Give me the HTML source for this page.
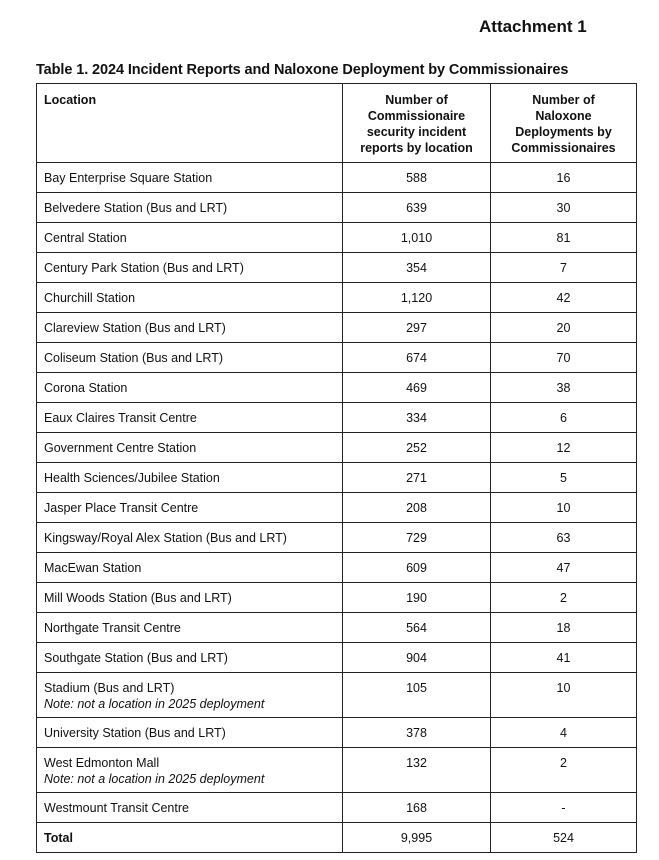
<!DOCTYPE html>
<html><head><meta charset="utf-8"><style>
body{margin:0;width:659px;height:860px;background:#fff;font-family:"Liberation Sans",sans-serif;color:#111;position:relative;overflow:hidden}
.att{position:absolute;left:479px;top:17px;font-size:17px;font-weight:bold}
.ttl{position:absolute;left:36px;top:62px;font-size:14.5px;font-weight:bold;letter-spacing:-0.1px}
table{position:absolute;left:36px;top:83px;border-collapse:collapse;font-size:12.5px;table-layout:fixed}
td{border:1px solid #222;padding:0 7px;height:29px;vertical-align:middle;box-sizing:border-box}
td.n{text-align:center}
tr.h td{height:79px;vertical-align:top;font-weight:bold;padding-top:8px;line-height:16px}
tr.d td{height:45px;vertical-align:top;padding-top:7px;line-height:16px}
tr.r td{height:30px}
i{font-style:italic}
</style></head><body>
<div class="att">Attachment 1</div>
<div class="ttl">Table 1. 2024 Incident Reports and Naloxone Deployment by Commissionaires</div>
<table>
<colgroup><col style="width:306px"><col style="width:148px"><col style="width:146px"></colgroup>
<tr class="h"><td>Location</td><td class="n">Number of<br>Commissionaire<br>security incident<br>reports by location</td><td class="n">Number of<br>Naloxone<br>Deployments by<br>Commissionaires</td></tr>
<tr class="r"><td>Bay Enterprise Square Station</td><td class="n">588</td><td class="n">16</td></tr>
<tr class="r"><td>Belvedere Station (Bus and LRT)</td><td class="n">639</td><td class="n">30</td></tr>
<tr class="r"><td>Central Station</td><td class="n">1,010</td><td class="n">81</td></tr>
<tr class="r"><td>Century Park Station (Bus and LRT)</td><td class="n">354</td><td class="n">7</td></tr>
<tr class="r"><td>Churchill Station</td><td class="n">1,120</td><td class="n">42</td></tr>
<tr class="r"><td>Clareview Station (Bus and LRT)</td><td class="n">297</td><td class="n">20</td></tr>
<tr class="r"><td>Coliseum Station (Bus and LRT)</td><td class="n">674</td><td class="n">70</td></tr>
<tr class="r"><td>Corona Station</td><td class="n">469</td><td class="n">38</td></tr>
<tr class="r"><td>Eaux Claires Transit Centre</td><td class="n">334</td><td class="n">6</td></tr>
<tr class="r"><td>Government Centre Station</td><td class="n">252</td><td class="n">12</td></tr>
<tr class="r"><td>Health Sciences/Jubilee Station</td><td class="n">271</td><td class="n">5</td></tr>
<tr class="r"><td>Jasper Place Transit Centre</td><td class="n">208</td><td class="n">10</td></tr>
<tr class="r"><td>Kingsway/Royal Alex Station (Bus and LRT)</td><td class="n">729</td><td class="n">63</td></tr>
<tr class="r"><td>MacEwan Station</td><td class="n">609</td><td class="n">47</td></tr>
<tr class="r"><td>Mill Woods Station (Bus and LRT)</td><td class="n">190</td><td class="n">2</td></tr>
<tr class="r"><td>Northgate Transit Centre</td><td class="n">564</td><td class="n">18</td></tr>
<tr class="r"><td>Southgate Station (Bus and LRT)</td><td class="n">904</td><td class="n">41</td></tr>
<tr class="d"><td>Stadium (Bus and LRT)<br><i>Note: not a location in 2025 deployment</i></td><td class="n">105</td><td class="n">10</td></tr>
<tr class="r"><td>University Station (Bus and LRT)</td><td class="n">378</td><td class="n">4</td></tr>
<tr class="d"><td>West Edmonton Mall<br><i>Note: not a location in 2025 deployment</i></td><td class="n">132</td><td class="n">2</td></tr>
<tr class="r"><td>Westmount Transit Centre</td><td class="n">168</td><td class="n">-</td></tr>
<tr class="r"><td><b>Total</b></td><td class="n">9,995</td><td class="n">524</td></tr>
</table>
</body></html>
